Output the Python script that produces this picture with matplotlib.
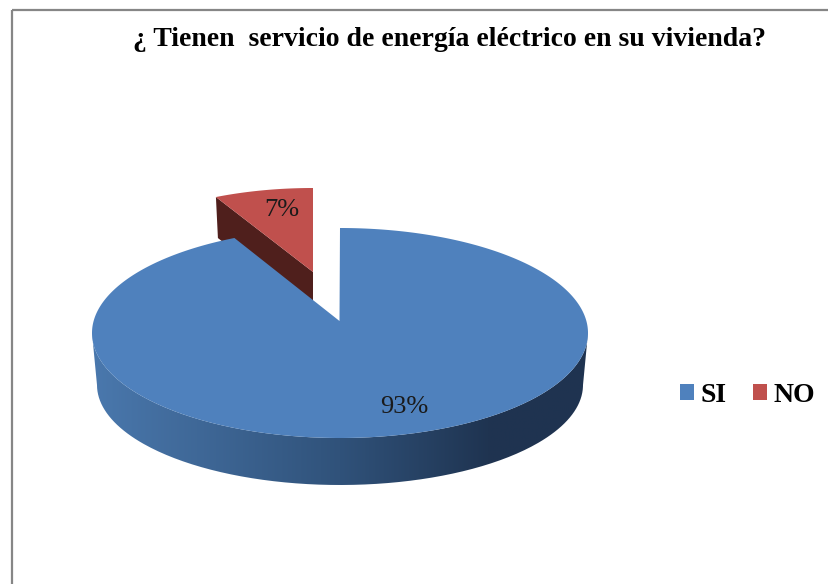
import numpy as np
import matplotlib
matplotlib.use('Agg')
import matplotlib.pyplot as plt
from matplotlib.colors import LinearSegmentedColormap
from matplotlib.patches import Patch, PathPatch, Polygon, Rectangle
from matplotlib.path import Path

# Data
categories = ['SI', 'NO']
values = [93, 7]
colors = ['#4f81bd', '#c0504d']

plt.rcParams['font.family'] = ['Liberation Serif', 'DejaVu Serif']

W, H = 829, 584
fig = plt.figure(figsize=(W / 100, H / 100), dpi=100)
ax = fig.add_axes([0, 0, 1, 1])
ax.set_xlim(0, W)
ax.set_ylim(H, 0)
ax.axis('off')

# Chart frame, runs off the right and bottom of the picture
ax.add_patch(Rectangle((12.5, 9.5), W + 20, H + 20, fill=False, edgecolor='#868686', linewidth=1.6))


def arc(cx, cy, rx, ry, a0, a1, n=200):
    # angles in degrees, clockwise from 12 o'clock on the tilted ellipse
    t = np.radians(np.linspace(a0, a1, n))
    return np.column_stack([cx + rx * np.sin(t), cy - ry * np.cos(t)])


# Slice angles from the values
total = sum(values)
si_end = 360 * values[0] / total
no_start, no_end = si_end, 360

# Exploded NO slice: cut face first, the SI top covers its lower part
no_cx, no_cy, no_rx, no_ry = 313, 283, 228, 95
no_apex = np.array([313, 272])
no_depth = 41
no_arc = arc(no_cx, no_cy, no_rx, no_ry, no_start, no_end)
corner = no_arc[0]
ax.add_patch(Polygon([corner, no_apex, no_apex + [0, no_depth], corner + [2, no_depth]],
                     closed=True, facecolor='#4f1f1c', edgecolor='none'))
ax.add_patch(Polygon(np.vstack([no_arc, no_apex]), closed=True, facecolor=colors[1], edgecolor='none'))

# SI slice: rim with a left to right shading
cx, cy, rx, ry = 340, 333, 248, 105
low_cy, low_rx, low_ry = 385, 243, 100
upper = arc(cx, cy, rx, ry, 90, 270)
lower = arc(cx, low_cy, low_rx, low_ry, 270, 90)
rim = np.vstack([upper, lower, upper[:1]])
rim_path = Path(rim, closed=False)
rim_patch = PathPatch(rim_path, facecolor='none', edgecolor='none', transform=ax.transData)
ax.add_patch(rim_patch)
rim_cmap = LinearSegmentedColormap.from_list('rim', [(0, '#4a78ad'), (0.5, '#30527a'), (0.8, '#1f3451'), (1, '#1f3350')])
img = ax.imshow(np.linspace(0, 1, 256)[None, :], cmap=rim_cmap, aspect='auto',
                extent=(cx - rx, cx + rx, low_cy + low_ry + 2, cy - 2), zorder=1)
img.set_clip_path(rim_patch)
ax.set_xlim(0, W)
ax.set_ylim(H, 0)

# SI top face
si_apex = np.array([339.5, 321])
si_arc = arc(cx, cy, rx, ry, 0, si_end, n=500)
ax.add_patch(Polygon(np.vstack([si_apex, si_arc]), closed=True, facecolor=colors[0], edgecolor='none', zorder=2))

# Data labels
ax.text(404, 407, f'{values[0]}%', ha='center', va='center', fontsize=19, color='#1a1a1a', zorder=3)
ax.text(282, 210, f'{values[1]}%', ha='center', va='center', fontsize=19, color='#1a1a1a', zorder=3)

# Title and legend
ax.text(450, 40, '¿ Tienen  servicio de energía eléctrico en su vivienda?', ha='center', va='center',
        fontsize=20, fontweight='bold', color='black')
handles = [Patch(facecolor=c, edgecolor='none') for c in colors]
ax.legend(handles, categories, ncol=2, frameon=False, loc='center left', bbox_to_anchor=(680, 395),
          bbox_transform=ax.transData, borderaxespad=0, borderpad=0,
          prop={'family': 'Liberation Serif', 'weight': 'bold', 'size': 20},
          handlelength=0.5, handleheight=0.5, handletextpad=0.25, columnspacing=0.93)

plt.savefig('out.png', dpi=100)
